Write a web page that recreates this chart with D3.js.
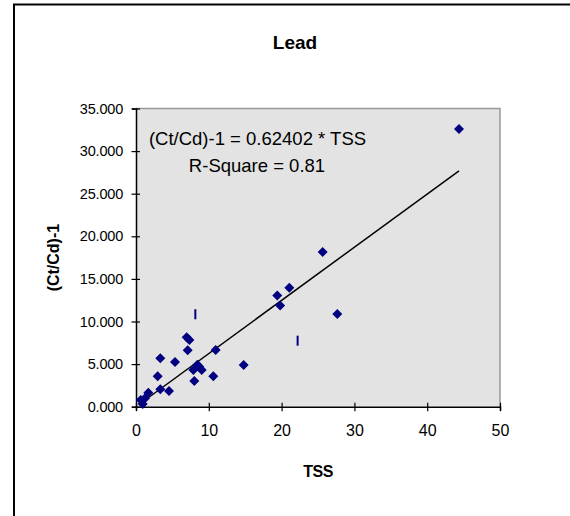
<!DOCTYPE html>
<html><head><meta charset="utf-8">
<script src="https://cdn.jsdelivr.net/npm/d3@7"></script>
<style>body{margin:0;background:#fff;} svg{display:block;font-family:"Liberation Sans",Arial,sans-serif;}</style>
</head><body>
<svg id="c" width="570" height="516"></svg>
<script>
const tssValues = [0.65, 0.92, 1.24, 1.69, 2.98, 3.34, 3.34, 4.53, 5.36, 6.96, 7.33, 7.1, 7.88, 8.01, 8.43, 8.7, 9.02, 10.62, 10.95, 14.79, 19.4, 19.8, 21.06, 25.64, 27.65, 44.37];
const ratioValues = [0.79, 0.32, 0.99, 1.64, 3.57, 5.68, 2.04, 1.84, 5.25, 8.14, 7.83, 6.62, 4.31, 3.02, 4.93, 4.7, 4.31, 3.57, 6.65, 4.89, 13.05, 11.88, 13.95, 18.16, 10.88, 32.6];
const barMarkX = [8.15, 22.2];
const barMarkY = [10.85, 7.75];
const slope = 0.62402;
const xTicks = [0, 10, 20, 30, 40, 50];
const yTicks = [0, 5, 10, 15, 20, 25, 30, 35];
const title = "Lead";
const xTitle = "TSS";
const yTitle = "(Ct/Cd)-1";
const eqText = "(Ct/Cd)-1 = 0.62402 * TSS";
const r2Text = "R-Square = 0.81";

const svg = d3.select("#c");
// outer chart border (extends beyond the view on right/bottom)
svg.append("rect").attr("x",14).attr("y",4.5).attr("width",700).attr("height",700)
  .attr("fill","#fff").attr("stroke","#000").attr("stroke-width",2);

const L=136, R=500, T=108.5, B=406.7;
const x = d3.scaleLinear().domain([0,50]).range([L,R]);
const y = d3.scaleLinear().domain([0,35]).range([B,T]);

svg.append("rect").attr("x",L).attr("y",T).attr("width",R-L).attr("height",B-T)
  .attr("fill","#e3e3e3");
// top and right border grey
svg.append("path").attr("d",`M${L},${T}H${R}V${B}`).attr("fill","none")
  .attr("stroke","#999").attr("stroke-width",1.5);

const xAxis = svg.append("g").attr("transform",`translate(0,${B})`)
  .call(d3.axisBottom(x).tickValues(xTicks).tickSize(4).tickPadding(14).tickFormat(d3.format("d")));
xAxis.selectAll(".tick line").attr("y1",-4).attr("y2",4.5);
xAxis.selectAll("text").attr("font-size",16).attr("fill","#000").attr("font-family","Liberation Sans, Arial");
const yAxis = svg.append("g").attr("transform",`translate(${L},0)`)
  .call(d3.axisLeft(y).tickValues(yTicks).tickSize(4).tickPadding(9).tickFormat(d3.format(".3f")));
yAxis.selectAll(".tick line").attr("x1",-4.5).attr("x2",4);
yAxis.selectAll("text").attr("font-size",14.5).attr("fill","#000").attr("font-family","Liberation Sans, Arial").attr("letter-spacing","-0.2");
svg.selectAll(".domain").attr("stroke","#000").attr("stroke-width",1.5);
svg.selectAll(".tick line").attr("stroke","#000").attr("stroke-width",1.2);

// regression line
const xMin = d3.min(tssValues), xMax = d3.max(tssValues);
svg.append("line").attr("x1",x(xMin)).attr("y1",y(slope*xMin))
  .attr("x2",x(xMax)).attr("y2",y(slope*xMax))
  .attr("stroke","#000").attr("stroke-width",1.5);

// points
const pts = tssValues.map((v,i)=>({x:v,y:ratioValues[i]}));
svg.append("g").selectAll("path").data(pts).join("path")
  .attr("d","M0,-5L5,0L0,5L-5,0Z")
  .attr("transform",d=>`translate(${x(d.x)},${y(d.y)})`)
  .attr("fill","#000080");
svg.append("g").selectAll("rect").data(barMarkX.map((v,i)=>({x:v,y:barMarkY[i]}))).join("rect")
  .attr("x",d=>x(d.x)-1).attr("y",d=>y(d.y)-5).attr("width",2).attr("height",10)
  .attr("fill","#000080");

svg.append("text").attr("x",295).attr("y",49).attr("text-anchor","middle")
  .attr("font-size",19).attr("font-weight","bold").text(title);
svg.append("text").attr("x",318).attr("y",477).attr("text-anchor","middle")
  .attr("font-size",16).attr("font-weight","bold").attr("letter-spacing","-0.5").text(xTitle);
svg.append("text").attr("transform",`translate(59,${(T+B)/2}) rotate(-90)`).attr("text-anchor","middle")
  .attr("font-size",16).attr("font-weight","bold").text(yTitle);
svg.append("text").attr("x",257.5).attr("y",145).attr("text-anchor","middle")
  .attr("font-size",18.5).text(eqText);
svg.append("text").attr("x",257).attr("y",171.5).attr("text-anchor","middle")
  .attr("font-size",18.5).text(r2Text);
</script>
</body></html>
